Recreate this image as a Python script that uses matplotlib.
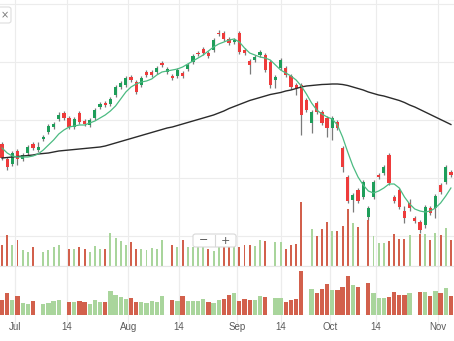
import numpy as np
import matplotlib
matplotlib.use("Agg")
import matplotlib.pyplot as plt
from matplotlib.patches import FancyBboxPatch
from matplotlib.lines import Line2D

# ---------------- data ----------------
opens = [126, 111, 106, 119, 111, 117, 126, 120, 131, 138,
         143, 151, 157, 152, 143, 157, 149, 145, 152, 163,
         167, 166, 175, 183, 185, 193, 188, 185, 198, 198,
         198, 207, 198, 194, 194, 197, 201, 208, 217, 221,
         217, 220, 237, 237, 231, 228, 237, 220, 209, 210,
         215, 215, 208, 190, 202, 202, 194, 185, 185, 170,
         147, 167, 158, 152, 142, 148, 122, 93, 70, 80,
         73, 53, 73, 95, 97, 115, 73, 80, 59, 67,
         52, 48, 45, 62, 62, 85, 88, 98]
closes = [112, 103, 117, 111, 115, 123, 122, 123, 133, 144,
          146, 155, 152, 143, 151, 148, 146, 150, 160, 166,
          165, 171, 183, 187, 192, 190, 178, 192, 195, 195,
          202, 205, 201, 192, 200, 194, 205, 214, 216, 217,
          214, 230, 236, 231, 227, 230, 218, 217, 205, 213,
          218, 200, 185, 193, 210, 195, 183, 182, 155, 160,
          158, 158, 147, 142, 152, 142, 103, 69, 75, 69,
          88, 62, 88, 93, 103, 87, 69, 63, 52, 62,
          49, 40, 63, 57, 74, 78, 103, 95]
highs = [128, 113, 119, 121, 117, 125, 128, 128, 135, 146,
         148, 158, 159, 154, 153, 159, 151, 152, 162, 168,
         169, 173, 185, 189, 194, 195, 190, 194, 200, 200,
         204, 209, 203, 196, 202, 199, 207, 216, 219, 223,
         219, 232, 240, 239, 233, 232, 239, 222, 211, 215,
         220, 217, 210, 195, 212, 204, 196, 187, 187, 172,
         160, 169, 160, 154, 154, 150, 124, 95, 77, 82,
         90, 64, 90, 97, 105, 117, 75, 82, 64, 71,
         54, 50, 65, 64, 76, 87, 105, 100]
lows = [110, 100, 104, 105, 109, 115, 120, 118, 129, 136,
        141, 149, 150, 141, 141, 146, 144, 143, 150, 161,
        163, 164, 173, 181, 183, 188, 176, 183, 193, 193,
        196, 203, 196, 190, 192, 192, 199, 206, 214, 215,
        212, 218, 234, 229, 225, 226, 216, 215, 196, 208,
        213, 198, 182, 182, 200, 193, 181, 175, 135, 158,
        137, 156, 145, 133, 130, 140, 98, 67, 58, 67,
        71, 50, 71, 91, 95, 85, 67, 61, 47, 59,
        47, 37, 42, 55, 52, 76, 86, 93]
volume = [35.3, 42.3, 35.3, 38.7, 32.3, 30.7, 34.0, 15.0, 31.3, 32.3,
          34.0, 35.3, 15.0, 33.3, 33.3, 34.3, 33.3, 31.3, 34.7, 33.3,
          32.7, 43.7, 40.0, 38.3, 35.7, 37.3, 33.0, 33.0, 32.3, 33.7,
          33.3, 39.0, 15.0, 35.3, 34.0, 38.7, 34.0, 34.0, 34.0, 35.7,
          33.0, 31.7, 35.0, 36.0, 39.7, 42.3, 34.3, 35.7, 35.3, 35.0,
          39.0, 38.0, 15.0, 37.3, 37.3, 33.0, 35.3, 36.0, 64.0, 15.0,
          46.3, 41.7, 46.3, 51.0, 44.7, 44.7, 48.3, 59.0, 49.7, 47.7,
          15.0, 51.7, 41.7, 36.7, 36.7, 38.0, 43.0, 39.7, 39.7, 42.3,
          15.0, 43.0, 43.0, 39.0, 43.7, 42.3, 46.7, 39.0]
volume_up = [0, 0, 1, 0, 1, 1, 0, 1, 1, 1,
             1, 1, 0, 0, 1, 0, 0, 1, 1, 1,
             0, 1, 1, 1, 1, 0, 0, 1, 1, 1,
             1, 1, 1, 0, 1, 0, 1, 1, 1, 1,
             0, 1, 1, 0, 0, 1, 0, 0, 0, 1,
             1, 0, 0, 1, 1, 0, 0, 0, 0, 0,
             1, 0, 0, 0, 1, 0, 0, 0, 1, 0,
             1, 0, 1, 1, 1, 0, 0, 0, 0, 1,
             0, 0, 1, 0, 1, 0, 1, 0]
sma_short = [122, 117, 114, 113, 113, 113, 114, 116, 120, 125,
             130, 136, 140, 143, 144, 145, 145, 147, 149, 152,
             155, 159, 164, 171, 178, 183, 186, 188, 189, 191,
             195, 198, 199, 200, 201, 203, 206, 209, 212, 215,
             219, 223, 226, 228, 230, 231, 228, 222, 217, 215,
             213, 212, 210, 205, 200, 197, 194, 190, 184, 176,
             167, 160, 156, 153, 151, 145, 133, 118, 104, 93,
             85, 79, 77, 79, 82, 86, 86, 82, 73, 66,
             61, 59, 58, 59, 62, 67, 74, 82]
sma_long = [112, 112.5, 113, 113.5, 114, 114.5, 115, 116, 116.5, 117,
            118, 119, 119.5, 120, 120.5, 121, 121.5, 122, 122.5, 123,
            124, 125.5, 127, 128.5, 130, 131.5, 133, 134.5, 136, 137.5,
            139, 140.5, 142, 143, 144.5, 146, 147.5, 149, 150.5, 152,
            153.5, 155, 157, 159, 161.5, 163.5, 165.5, 167.5, 169.5, 171,
            172.5, 174, 175.5, 176.5, 177.5, 179, 180, 181.5, 183, 184,
            184.5, 185, 185.5, 185.7, 186, 186, 185.5, 184.5, 183, 181.5,
            180, 178, 176.5, 175, 174, 172.5, 171, 169.5, 167.5, 165,
            163, 160.5, 158, 155.5, 153, 150.5, 148, 145.5]
tick_pos = [2.5, 12.5, 24.5, 34.3, 45.5, 54.0, 63.5, 72.5, 84.5]
tick_labels = ["Jul", "14", "Aug", "14", "Sep", "14", "Oct", "14", "Nov"]
price_grid = [34, 92, 150, 208, 266]

# ---------------- style ----------------
UP = "#1e9e5a"
DOWN = "#ee3b3b"
WICK = "#7a7a7a"
VUP = "#a9d59c"
VDOWN = "#d2604c"
GRID = "#ececec"

W, H = 454, 341
fig = plt.figure(figsize=(W / 100, H / 100), dpi=100)
fig.patch.set_facecolor("white")

def frac(y_top, y_bot):
    return (H - y_bot) / H, (y_bot - y_top) / H

x = np.arange(len(opens))
o = np.array(opens, float)
c = np.array(closes, float)
hi = np.array(highs, float)
lo = np.array(lows, float)
vol = np.array(volume, float)
vup = np.array(volume_up, bool)
xlim = (-0.39, 87.6)

# main price panel
b, h = frac(0, 266)
ax = fig.add_axes([0, b, 1, h])
ax.set_xlim(*xlim)
ax.set_ylim(4, 270)
ax.set_yticks(price_grid)
ax.set_xticks(tick_pos)
ax.grid(True, color=GRID, lw=0.8)
ax.tick_params(left=False, bottom=False, labelleft=False, labelbottom=False)
for s in ax.spines.values():
    s.set_visible(False)
ax.set_axisbelow(True)

up = c >= o
ax.vlines(x, lo, hi, color=WICK, lw=0.9, zorder=2)
body_b = np.minimum(o, c)
body_h = np.maximum(np.abs(c - o), 0.9)
ax.bar(x[up], body_h[up], bottom=body_b[up], width=0.62, color=UP, zorder=3, lw=0)
ax.bar(x[~up], body_h[~up], bottom=body_b[~up], width=0.62, color=DOWN, zorder=3, lw=0)
ax.plot(x, sma_long, color="#2b2b2b", lw=1.0, zorder=4)
ax.plot(x, sma_short, color="#4cbb82", lw=0.9, zorder=4)

# volume overlay inside main panel
b, h = frac(200, 265.6)
axo = fig.add_axes([0, b, 1, h])
axo.set_xlim(*xlim)
axo.set_ylim(22.1, 65.1)
axo.patch.set_alpha(0)
axo.axis("off")
axo.bar(x, vol - 22.1, bottom=22.1, width=0.38,
        color=np.where(vup, VUP, VDOWN), lw=0)
axo.add_line(Line2D([0, 1], [0, 0], transform=axo.transAxes, color="#dddddd", lw=0.8))

# bottom volume panel
b, h = frac(270, 315)
axb = fig.add_axes([0, b, 1, h])
axb.set_xlim(*xlim)
axb.set_ylim(20, 65)
axb.bar(x, vol - 20, bottom=20, width=0.83,
        color=np.where(vup, VUP, VDOWN), lw=0, zorder=3)
axb.set_xticks(tick_pos)
axb.set_xticklabels(tick_labels, fontsize=7, color="#5a5a5a", family="Liberation Sans")
axb.set_yticks([])
axb.tick_params(length=0, pad=5)
axb.grid(True, axis="x", color=GRID, lw=0.8)
axb.set_axisbelow(True)
for s in axb.spines.values():
    s.set_visible(False)
axb.add_line(Line2D([0, 1], [1.09, 1.09], transform=axb.transAxes, color="#e6e6e6", lw=0.8, clip_on=False))
axb.add_line(Line2D([0, 1], [0, 0], transform=axb.transAxes, color="#e6e6e6", lw=0.8))
for tp in tick_pos:
    axb.add_line(Line2D([tp, tp], [-0.25, 1.1], transform=axb.get_xaxis_transform(),
                        color=GRID, lw=0.8, clip_on=False, zorder=0))

# UI widgets: close box and zoom buttons
fig.patches.append(FancyBboxPatch(((-6) / W, (H - 23) / H), 17 / W, 16 / H,
                                  boxstyle="round,pad=0,rounding_size=0.006",
                                  transform=fig.transFigure, fc="white", ec="#dddddd", lw=0.8))
fig.text(5 / W, (H - 15) / H, "×", fontsize=7, color="#777777", ha="center", va="center")
fig.patches.append(FancyBboxPatch((193 / W, (H - 247) / H), 43 / W, 13 / H,
                                  boxstyle="round,pad=0,rounding_size=0.006",
                                  transform=fig.transFigure, fc="white", ec="#d8d8d8", lw=0.8))
fig.add_artist(Line2D([214.5 / W, 214.5 / W], [(H - 246) / H, (H - 235) / H],
                      transform=fig.transFigure, color="#d8d8d8", lw=0.8))
fig.text(203.5 / W, (H - 240.5) / H, "−", fontsize=8, color="#555555", ha="center", va="center")
fig.text(225.5 / W, (H - 240.5) / H, "+", fontsize=8, color="#555555", ha="center", va="center")

fig.savefig("out.png", dpi=100)
